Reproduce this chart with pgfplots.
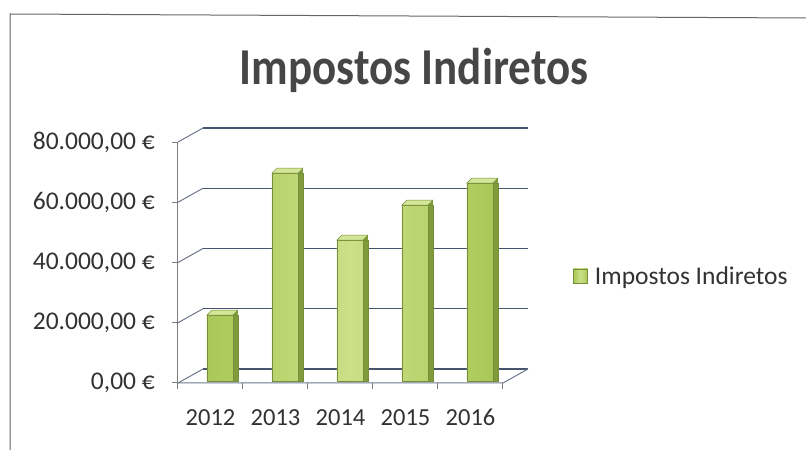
\documentclass[border=0pt]{standalone}
\usepackage{fontspec}
\setmainfont{Carlito}
\usepackage{pgfplots}
\usepackage{pgfplotstable}
\pgfplotsset{compat=1.18}
\definecolor{gridc}{RGB}{72,84,110}
\definecolor{axc}{RGB}{125,125,125}
\definecolor{barF}{RGB}{170,200,88}
\definecolor{barL}{RGB}{203,224,135}
\definecolor{barS}{RGB}{128,156,58}
\definecolor{barT}{RGB}{212,230,152}
\definecolor{barE}{RGB}{118,142,58}
\definecolor{txt}{RGB}{50,50,50}
\definecolor{ttl}{RGB}{70,70,70}

\pgfdeclareplotmark{bartop}{%
  \pgfsetlinewidth{0.5pt}%
  \pgfsetstrokecolor{barE}%
  \pgfsetfillcolor{barS}%
  \pgfpathmoveto{\pgfpoint{13pt}{0pt}}%
  \pgfpathlineto{\pgfpoint{18pt}{5pt}}%
  \pgfpathlineto{\pgfpoint{18pt}{0pt}}%
  \pgfpathclose
  \pgfusepath{fill}%
  \pgfsetfillcolor{barT}%
  \pgfpathmoveto{\pgfpoint{-13pt}{0pt}}%
  \pgfpathlineto{\pgfpoint{13pt}{0pt}}%
  \pgfpathlineto{\pgfpoint{18pt}{5pt}}%
  \pgfpathlineto{\pgfpoint{-8pt}{5pt}}%
  \pgfpathclose
  \pgfusepath{fill,stroke}%
}

\pgfplotstableread{
x year value
0 2012 21900
1 2013 69000
2 2014 46800
3 2015 58400
4 2016 65700
}\datatable

\begin{document}
\begin{tikzpicture}
\useasboundingbox (0pt,0pt) rectangle (806pt,450pt);
\begin{axis}[
  at={(187.5pt,69pt)}, anchor=south west,
  scale only axis, width=325pt, height=241pt,
  xmin=-0.5, xmax=4.5, ymin=0, ymax=80000,
  clip=false,
  axis line style={draw=none},
  major tick length=0pt,
  tick style={draw=none},
  xtick={0,1,2,3,4},
  xticklabels={2012,2013,2014,2015,2016},
  ytick={0,20000,40000,60000,80000},
  yticklabels={{0,00 €},{20.000,00 €},{40.000,00 €},{60.000,00 €},{80.000,00 €}},
  scaled y ticks=false,
  yticklabel style={anchor=east, inner sep=0pt, xshift=-32.5pt, yshift=-2pt,
    font=\fontsize{25.5}{28}\selectfont, text=txt},
  xticklabel style={anchor=base, inner sep=0pt, xshift=-9.5pt, yshift=-44.5pt,
    font=\fontsize{24.5}{27}\selectfont, text=txt},
  legend style={at={(axis description cs:1.186,0.4357)}, anchor=west,
    draw=none, fill=none, inner sep=0pt, font=\fontsize{25.5}{28}\selectfont,
    text=txt, column sep=7pt, nodes={inner sep=0pt}},
  legend image code/.code={\draw[draw=barE, fill=barL, line width=0.8pt] (0pt,-7pt) rectangle (14pt,7pt);},
]
% back wall grid and front axis
\pgfplotsinvokeforeach{0,20000,40000,60000,80000}{
  \draw[gridc, line width=1.3pt] ([shift={(15.5pt,12pt)}]axis cs:-0.5,#1) -- ([shift={(15.5pt,12pt)}]axis cs:4.5,#1);
  \draw[gridc!80, line width=1pt] ([shift={(-9.5pt,-2pt)}]axis cs:-0.5,#1) -- ([shift={(15.5pt,12pt)}]axis cs:-0.5,#1);
  \draw[axc, line width=1pt] ([shift={(-9.5pt,-2pt)}]axis cs:-0.5,#1) -- ++(-6pt,0pt);
}
\draw[axc, line width=1pt] ([shift={(-9.5pt,-2pt)}]axis cs:-0.5,0) -- ([shift={(-9.5pt,-2pt)}]axis cs:-0.5,80000);
\draw[gridc!80, line width=1pt] ([shift={(-9.5pt,-2pt)}]axis cs:-0.5,0) -- ([shift={(-9.5pt,-2pt)}]axis cs:4.5,0) -- ([shift={(15.5pt,12pt)}]axis cs:4.5,0);
\pgfplotsinvokeforeach{-0.5,0.5,1.5,2.5,3.5,4.5}{
  \draw[axc, line width=1pt] ([shift={(-9.5pt,-2pt)}]axis cs:#1,0) -- ++(0pt,-6pt);
}
% bars
\addplot[ybar, bar width=5pt, bar shift=15.5pt, fill=barS, draw=barE, line width=0.5pt, forget plot]
  table[x=x, y=value] {\datatable};
\addplot[ybar, bar width=26pt, bar shift=0pt, draw=barE, line width=0.5pt,
  left color=barF, right color=barF, middle color=barL]
  table[x=x, y=value] {\datatable};
\addlegendentry{Impostos Indiretos}
\addplot[only marks, mark=bartop, forget plot] table[x=x, y=value] {\datatable};
\end{axis}
\node[anchor=base, text=ttl, inner sep=0pt] at (414pt,365pt)
  {\scalebox{1}[1.15]{\fontsize{45}{50}\selectfont\bfseries Impostos Indiretos}};
\draw[color=black!60, line width=1pt] (10pt,0pt) -- (10pt,436pt) -- (806pt,432pt);
\end{tikzpicture}
\end{document}
